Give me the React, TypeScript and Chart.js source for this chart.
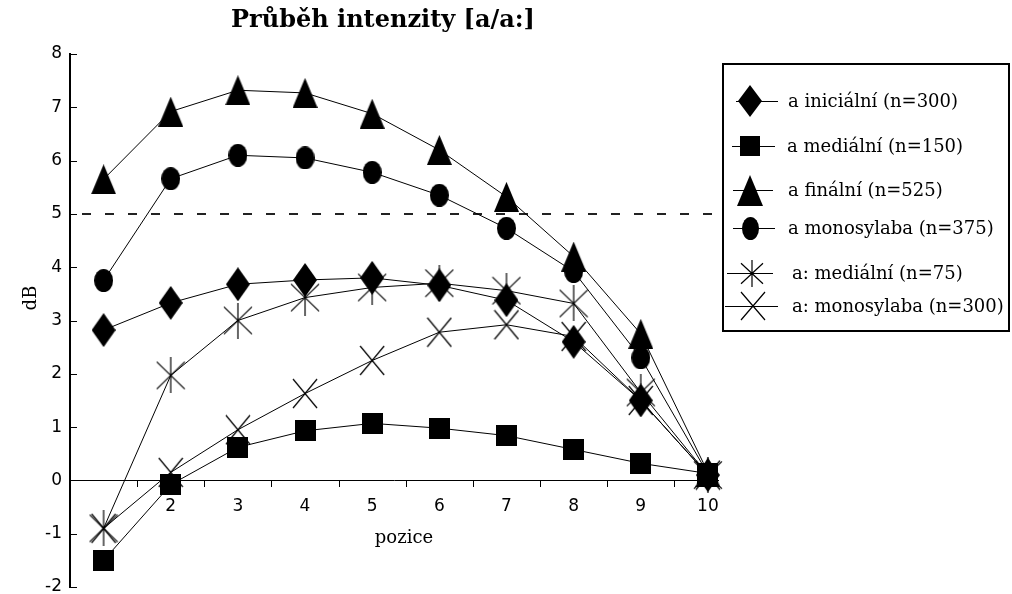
import React, { useEffect, useRef } from 'react';
import { Chart, registerables } from 'chart.js';

Chart.register(...registerables);

// ---------- data ----------
const positions = [1, 2, 3, 4, 5, 6, 7, 8, 9, 10];
const xTickValues = [2, 3, 4, 5, 6, 7, 8, 9, 10];
const xMinorTicks = [1.5, 2.5, 3.5, 4.5, 5.5, 6.5, 7.5, 8.5, 9.5];
const yTickValues = [-2, -1, 0, 1, 2, 3, 4, 5, 6, 7, 8];

const seriesLabels = [
  'a iniciální (n=300)',
  'a mediální (n=150)',
  'a finální (n=525)',
  'a monosylaba (n=375)',
  'a: mediální (n=75)',
  'a: monosylaba (n=300)',
];

const aInicialni = [2.82, 3.33, 3.68, 3.76, 3.8, 3.66, 3.38, 2.6, 1.5, 0.1];
const aMedialni = [-1.5, -0.08, 0.62, 0.93, 1.07, 0.98, 0.84, 0.58, 0.32, 0.13];
const aFinalni = [5.65, 6.92, 7.32, 7.27, 6.88, 6.2, 5.32, 4.2, 2.75, 0.15];
const aMonosylaba = [3.75, 5.66, 6.1, 6.05, 5.78, 5.35, 4.73, 3.92, 2.3, 0.12];
const aaMedialni = [-0.9, 1.97, 3.0, 3.43, 3.62, 3.7, 3.56, 3.32, 1.65, 0.1];
const aaMonosylaba = [-0.9, 0.15, 0.95, 1.63, 2.25, 2.78, 2.92, 2.7, 1.5, 0.1];

const referenceLevel = 5;
const titleText = 'Průběh intenzity [a/a:]';
const xTitle = 'pozice';
const yTitle = 'dB';

// ---------- markers ----------
type Kind = 'diamond' | 'square' | 'triangle' | 'circle' | 'star' | 'cross';
const markerKinds: Kind[] = ['diamond', 'square', 'triangle', 'circle', 'star', 'cross'];

function makeMarker(kind: Kind, w: number, h: number): HTMLCanvasElement {
  const c = document.createElement('canvas');
  c.width = w;
  c.height = h;
  const g = c.getContext('2d')!;
  g.fillStyle = '#000';
  g.strokeStyle = '#000';
  g.lineWidth = 1.2;
  g.beginPath();
  if (kind === 'diamond') {
    g.moveTo(w / 2, 0);
    g.lineTo(w, h / 2);
    g.lineTo(w / 2, h);
    g.lineTo(0, h / 2);
    g.closePath();
    g.fill();
  } else if (kind === 'square') {
    g.rect(0, 0, w, h);
    g.fill();
  } else if (kind === 'triangle') {
    g.moveTo(w / 2, 0);
    g.lineTo(w, h);
    g.lineTo(0, h);
    g.closePath();
    g.fill();
  } else if (kind === 'circle') {
    g.ellipse(w / 2, h / 2, w / 2, h / 2, 0, 0, Math.PI * 2);
    g.fill();
  } else if (kind === 'star') {
    g.moveTo(w / 2, 0);
    g.lineTo(w / 2, h);
    g.moveTo(1, h * 0.12);
    g.lineTo(w - 1, h * 0.88);
    g.moveTo(w - 1, h * 0.12);
    g.lineTo(1, h * 0.88);
    g.stroke();
  } else {
    g.moveTo(1, 1);
    g.lineTo(w - 1, h - 1);
    g.moveTo(w - 1, 1);
    g.lineTo(1, h - 1);
    g.stroke();
  }
  return c;
}

const chartSizes: Record<Kind, [number, number]> = {
  diamond: [24, 34],
  square: [21, 21],
  triangle: [25, 30],
  circle: [19, 23],
  star: [30, 36],
  cross: [26, 31],
};
const legendSizes: Record<Kind, [number, number]> = {
  diamond: [24, 32],
  square: [20, 20],
  triangle: [26, 31],
  circle: [17, 23],
  star: [24, 27],
  cross: [26, 30],
};

export default function App() {
  const ref = useRef<HTMLCanvasElement | null>(null);

  useEffect(() => {
    if (!ref.current) return;
    const seriesValues = [aInicialni, aMedialni, aFinalni, aMonosylaba, aaMedialni, aaMonosylaba];
    const chartMarkers = markerKinds.map((k) => makeMarker(k, chartSizes[k][0], chartSizes[k][1]));
    const legendMarkers = markerKinds.map((k) => makeMarker(k, legendSizes[k][0], legendSizes[k][1]));

    const decor = {
      id: 'decor',
      beforeDatasetsDraw(chart: any) {
        const { ctx, chartArea, scales } = chart;
        const xs = scales.x;
        const ys = scales.y;
        ctx.save();
        // dashed reference line
        ctx.strokeStyle = '#222';
        ctx.lineWidth = 2;
        ctx.setLineDash([9, 14]);
        const yy = Math.round(ys.getPixelForValue(referenceLevel));
        ctx.beginPath();
        ctx.moveTo(chartArea.left + 12, yy);
        ctx.lineTo(chartArea.right - 6, yy);
        ctx.stroke();
        ctx.setLineDash([]);
        // inward y ticks
        ctx.lineWidth = 1;
        ctx.strokeStyle = '#000';
        for (const v of yTickValues) {
          const py = Math.round(ys.getPixelForValue(v)) + 0.5;
          ctx.beginPath();
          ctx.moveTo(chartArea.left, py);
          ctx.lineTo(chartArea.left + 7, py);
          ctx.stroke();
        }
        // x tick marks between positions
        const y0 = Math.round(ys.getPixelForValue(0));
        for (const v of xMinorTicks) {
          const px = Math.round(xs.getPixelForValue(v)) + 0.5;
          ctx.beginPath();
          ctx.moveTo(px, y0);
          ctx.lineTo(px, y0 + 7);
          ctx.stroke();
        }
        ctx.restore();
      },
      afterDraw(chart: any) {
        const { ctx } = chart;
        ctx.save();
        ctx.fillStyle = '#000';
        // title
        ctx.font = 'bold 24px "DejaVu Serif"';
        ctx.textAlign = 'center';
        ctx.textBaseline = 'middle';
        ctx.fillText(titleText, 383, 21);
        // axis titles
        ctx.font = '18px "DejaVu Serif"';
        ctx.fillText(xTitle, 404, 538);
        ctx.save();
        ctx.translate(31, 298);
        ctx.rotate(-Math.PI / 2);
        ctx.fillText(yTitle, 0, 0);
        ctx.restore();
        // legend
        ctx.strokeStyle = '#000';
        ctx.lineWidth = 2;
        ctx.strokeRect(723, 64, 286, 267);
        const rowsY = [101, 146, 190, 228, 273, 306];
        const markX = [750, 750, 750, 750, 752, 753];
        const lineFrom = [736, 732, 733, 733, 727, 725];
        const lineTo = [778, 775, 773, 775, 773, 778];
        const textX = [788, 787, 788, 788, 792, 792];
        ctx.font = '18px "DejaVu Serif"';
        ctx.textAlign = 'left';
        ctx.lineWidth = 1;
        for (let i = 0; i < seriesLabels.length; i++) {
          const ly = rowsY[i] + 0.5;
          ctx.beginPath();
          ctx.moveTo(lineFrom[i], ly);
          ctx.lineTo(lineTo[i], ly);
          ctx.stroke();
          const m = legendMarkers[i];
          ctx.drawImage(m, Math.round(markX[i] - m.width / 2), Math.round(rowsY[i] - m.height / 2));
          ctx.fillText(seriesLabels[i], textX[i], rowsY[i] + 1);
        }
        ctx.restore();
      },
    };

    const chart = new Chart(ref.current, {
      type: 'line',
      data: {
        datasets: seriesLabels.map((label, i) => ({
          label,
          data: positions.map((p, j) => ({ x: p, y: seriesValues[i][j] })),
          borderColor: '#000',
          backgroundColor: '#000',
          borderWidth: 1,
          tension: 0,
          pointStyle: chartMarkers[i] as any,
          pointRadius: 5,
          pointHoverRadius: 5,
          clip: false as any,
        })),
      },
      options: {
        responsive: false,
        animation: false,
        events: [],
        layout: { padding: { left: 0, top: 54, right: 294, bottom: 7 } },
        plugins: {
          legend: { display: false },
          title: { display: false },
          tooltip: { enabled: false },
        },
        scales: {
          x: {
            type: 'linear',
            position: { y: 0 } as any,
            min: 0.5,
            max: 10.15,
            afterFit: (s: any) => {
              s.height = 0;
              s.paddingLeft = 0;
              s.paddingRight = 0;
              s.paddingTop = 0;
              s.paddingBottom = 0;
            },
            afterBuildTicks: (s: any) => {
              s.ticks = xTickValues.map((v) => ({ value: v }));
            },
            grid: { display: false, drawTicks: false },
            border: { display: true, color: '#000', width: 1 },
            ticks: {
              color: '#000',
              padding: 16,
              font: { family: '"DejaVu Sans"', size: 17 },
              maxRotation: 0,
              autoSkip: false,
              callback: (v: any) => String(v),
            },
          },
          y: {
            type: 'linear',
            min: -2,
            max: 8,
            afterFit: (s: any) => {
              s.width = 70;
              s.paddingTop = 0;
              s.paddingBottom = 0;
              s.paddingLeft = 0;
              s.paddingRight = 0;
            },
            grid: { display: false, drawTicks: false },
            border: { display: true, color: '#000', width: 2 },
            ticks: {
              stepSize: 1,
              color: '#000',
              padding: 8,
              font: { family: '"DejaVu Sans"', size: 17 },
            },
          },
        },
      },
      plugins: [decor],
    });
    return () => chart.destroy();
  }, []);

  return (
    <div style={{ position: 'absolute', left: 0, top: 0, width: 1012, height: 594, background: '#fff' }}>
      <canvas ref={ref} width={1012} height={594} style={{ display: 'block' }} />
    </div>
  );
}
